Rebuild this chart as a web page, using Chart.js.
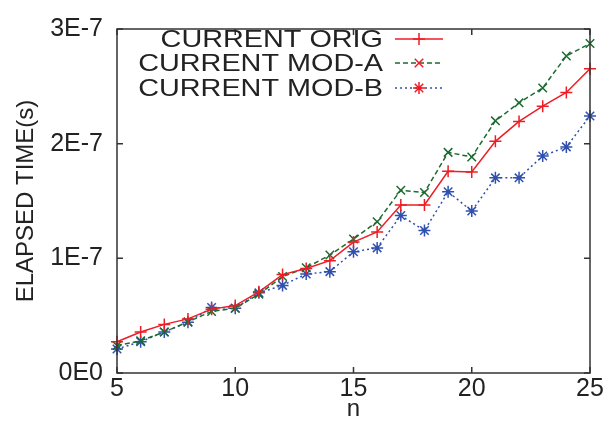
<!DOCTYPE html>
<html>
<head>
<meta charset="utf-8">
<script src="https://cdn.jsdelivr.net/npm/chart.js"></script>
<style>
  html, body { margin: 0; padding: 0; background: #fff; }
  #wrap { width: 616px; height: 421px; }
</style>
</head>
<body>
<div id="wrap"><canvas id="chart" width="616" height="421"></canvas></div>
<script>
// 数据
const nValues = [5, 6, 7, 8, 9, 10, 11, 12, 13, 14, 15, 16, 17, 18, 19, 20, 21, 22, 23, 24, 25];
const origTimes = [0.273, 0.358, 0.424, 0.472, 0.557, 0.588, 0.708, 0.858, 0.912, 0.980, 1.142, 1.230, 1.466, 1.466, 1.759, 1.753, 2.020, 2.194, 2.327, 2.447, 2.654];
const modATimes = [0.239, 0.281, 0.358, 0.446, 0.537, 0.565, 0.688, 0.841, 0.918, 1.029, 1.168, 1.319, 1.594, 1.574, 1.924, 1.884, 2.199, 2.356, 2.486, 2.765, 2.873];
const modBTimes = [0.210, 0.273, 0.358, 0.443, 0.571, 0.565, 0.699, 0.764, 0.864, 0.884, 1.057, 1.091, 1.373, 1.242, 1.580, 1.412, 1.702, 1.702, 1.893, 1.972, 2.242];
const seriesLabels = ['CURRENT ORIG', 'CURRENT MOD-A', 'CURRENT MOD-B'];
const yTickValues = [0, 1e-7, 2e-7, 3e-7];

const FONT = 'Liberation Sans, Arial, sans-serif';
const TEXT = '#222';
const AXIS = '#333';

const toPoints = (arr) => arr.map((v, i) => ({ x: nValues[i], y: v * 1e-7 }));

// 坐标框和向内刻度
const framePlugin = {
  id: 'frame',
  afterDatasetsDraw(chart) {
    const { ctx, chartArea: a, scales } = chart;
    const len = 6;
    ctx.save();
    ctx.strokeStyle = AXIS;
    ctx.lineWidth = 1.5;
    ctx.strokeRect(a.left, a.top, a.right - a.left, a.bottom - a.top);
    ctx.beginPath();
    scales.x.ticks.forEach((t) => {
      const px = scales.x.getPixelForValue(t.value);
      ctx.moveTo(px, a.bottom); ctx.lineTo(px, a.bottom - len);
      ctx.moveTo(px, a.top); ctx.lineTo(px, a.top + len);
    });
    scales.y.ticks.forEach((t) => {
      const py = scales.y.getPixelForValue(t.value);
      ctx.moveTo(a.left, py); ctx.lineTo(a.left + len, py);
      ctx.moveTo(a.right, py); ctx.lineTo(a.right - len, py);
    });
    ctx.stroke();
    ctx.restore();
  }
};

// 图例：文字在左，样例线在右
const legendPlugin = {
  id: 'sideLegend',
  afterDatasetsDraw(chart) {
    const { ctx } = chart;
    const textRight = 383;
    const lineX0 = 395, lineX1 = 443;
    const rowsY = [39, 63, 88];
    chart.data.datasets.forEach((ds, i) => {
      const y = rowsY[i];
      ctx.save();
      ctx.translate(textRight, y);
      ctx.scale(1.2, 1);
      ctx.font = '24px ' + FONT;
      ctx.fillStyle = TEXT;
      ctx.textAlign = 'right';
      ctx.textBaseline = 'middle';
      ctx.fillText(ds.label, 0, 1);
      ctx.restore();

      ctx.save();
      ctx.strokeStyle = ds.borderColor;
      ctx.lineWidth = ds.borderWidth;
      ctx.setLineDash(ds.borderDash || []);
      ctx.beginPath();
      ctx.moveTo(lineX0, y); ctx.lineTo(lineX1, y);
      ctx.stroke();
      ctx.restore();

      Chart.helpers.drawPoint(ctx, {
        pointStyle: ds.pointStyle,
        radius: ds.pointRadius,
        borderWidth: ds.pointBorderWidth,
        rotation: 0
      }, (lineX0 + lineX1) / 2, y);
    });
  }
};

const makeDataset = (label, values, color, style, dash) => ({
  label: label,
  data: toPoints(values),
  borderColor: color,
  backgroundColor: color,
  borderWidth: 1.5,
  borderDash: dash,
  pointStyle: style,
  pointRadius: 6,
  pointBorderWidth: 1.5,
  pointBorderColor: color,
  pointBackgroundColor: color,
  tension: 0,
  clip: false
});

new Chart(document.getElementById('chart'), {
  type: 'line',
  data: {
    datasets: [
      makeDataset(seriesLabels[0], origTimes, '#ee1c25', 'cross', []),
      makeDataset(seriesLabels[1], modATimes, '#1b6b30', 'crossRot', [5, 3]),
      makeDataset(seriesLabels[2], modBTimes, '#3050b0', 'star', [2, 3])
    ]
  },
  options: {
    responsive: false,
    animation: false,
    devicePixelRatio: 1,
    layout: { padding: { top: 21, right: 26, left: 0, bottom: 0 } },
    plugins: { legend: { display: false }, tooltip: { enabled: false } },
    scales: {
      x: {
        type: 'linear',
        min: 5,
        max: 25,
        grid: { display: false, drawTicks: false },
        border: { display: false },
        ticks: {
          stepSize: 5,
          padding: 4,
          color: TEXT,
          font: { family: FONT, size: 25, lineHeight: 1 }
        },
        title: {
          display: true,
          text: 'n',
          color: TEXT,
          font: { family: FONT, size: 24, lineHeight: 1 },
          padding: { top: 0, bottom: 0 }
        },
        afterFit(scale) { scale.height = 48; }
      },
      y: {
        type: 'linear',
        min: 0,
        max: 3e-7,
        grid: { display: false, drawTicks: false },
        border: { display: false },
        afterBuildTicks(scale) {
          scale.ticks = yTickValues.map((v) => ({ value: v }));
        },
        ticks: {
          padding: 14,
          color: TEXT,
          font: { family: FONT, size: 25 },
          callback: (v) => {
            const k = Math.round(v * 1e7);
            return k === 0 ? '0E0' : k + 'E-7';
          }
        },
        title: {
          display: true,
          text: 'ELAPSED TIME(s)',
          color: TEXT,
          font: { family: FONT, size: 24, lineHeight: 1 },
          padding: { top: 14, bottom: 0 }
        },
        afterFit(scale) { scale.width = 117; }
      }
    }
  },
  plugins: [framePlugin, legendPlugin]
});
</script>
</body>
</html>
